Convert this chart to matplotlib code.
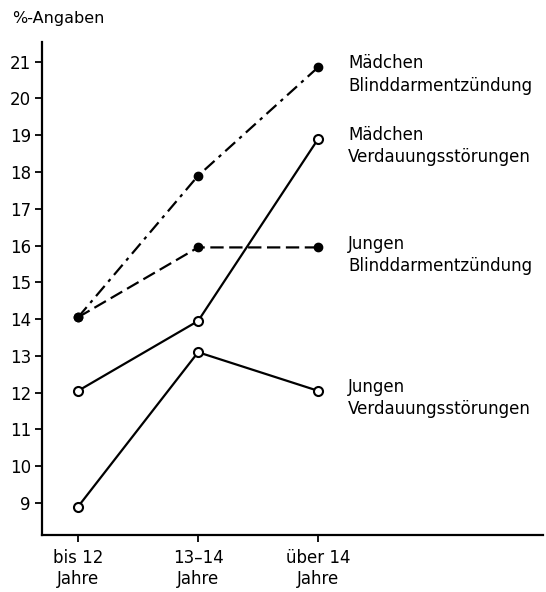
import matplotlib
matplotlib.use("Agg")
import matplotlib.pyplot as plt

plt.rcParams['font.family'] = ['DejaVu Sans']

# DATA
age_groups = ["bis 12\nJahre", "13\u201314\nJahre", "über 14\nJahre"]
maedchen_blind = [14.05, 17.9, 20.85]
jungen_blind = [14.05, 15.95, 15.95]
maedchen_verd = [12.05, 13.95, 18.9]
jungen_verd = [8.9, 13.1, 12.05]
yticks = list(range(9, 22))

labels = [
    ("Mädchen\nBlinddarmentzündung", 20.85),
    ("Mädchen\nVerdauungsstörungen", 18.9),
    ("Jungen\nBlinddarmentzündung", 15.95),
    ("Jungen\nVerdauungsstörungen", 12.05),
]

fig = plt.figure(figsize=(5.46, 5.92), dpi=100)
ax = fig.add_axes([0.077, 0.0963, 0.918, 0.833])

x = range(len(age_groups))
lw = 1.6
ax.plot(x, maedchen_blind, color="black", lw=lw, dashes=(6, 2.5, 1.5, 2.5),
        marker="o", ms=6, mfc="black", mec="black")
ax.plot(x, jungen_blind, color="black", lw=lw, dashes=(6, 2.5),
        marker="o", ms=6, mfc="black", mec="black")
ax.plot(x, maedchen_verd, color="black", lw=lw,
        marker="o", ms=6.5, mfc="white", mec="black", mew=1.5)
ax.plot(x, jungen_verd, color="black", lw=lw,
        marker="o", ms=6.5, mfc="white", mec="black", mew=1.5)

for text, yv in labels:
    ax.text(2.25, yv + 0.35, text, ha="left", va="top", fontsize=12,
            linespacing=1.3)

ax.set_xlim(-0.3, 3.875)
ax.set_ylim(8.13, 21.54)
ax.set_xticks(list(x))
ax.set_xticklabels(age_groups, fontsize=12, linespacing=1.25)
ax.set_yticks(yticks)
ax.set_yticklabels([str(v) for v in yticks], fontsize=12)

for s in ["top", "right"]:
    ax.spines[s].set_visible(False)
for s in ["left", "bottom"]:
    ax.spines[s].set_linewidth(1.6)
ax.tick_params(axis="both", width=1.3, length=5, color="black", pad=3)
ax.tick_params(axis="x", pad=5)

fig.text(0.022, 0.968, "%-Angaben", fontsize=11.5, ha="left", va="center")

fig.savefig("out.png", dpi=100)
